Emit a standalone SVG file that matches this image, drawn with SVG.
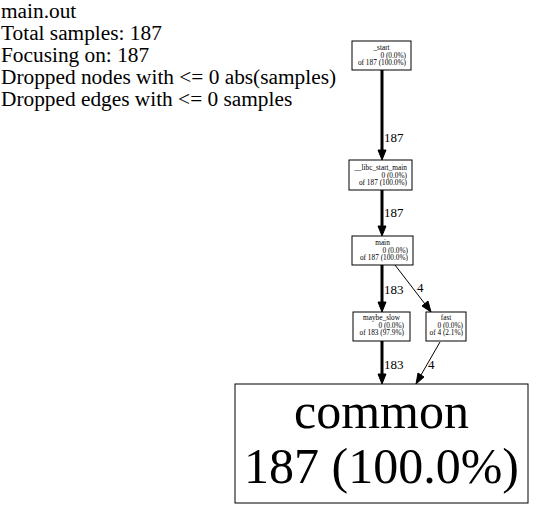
<svg xmlns="http://www.w3.org/2000/svg" width="540" height="517" viewBox="0 0 540 517">
<style>
text{font-family:"Liberation Serif","Times New Roman",serif;fill:#000}
.hdr{font-size:21.33px}
.n{font-size:7.3px}
.lbl{font-size:13px}
rect{fill:#fff;stroke:#000;stroke-width:1}
.e{stroke:#000;fill:none}
.ah{fill:#000;stroke:#000}
</style>
<rect x="0" y="0" width="540" height="517" style="stroke:none;fill:#fff"/>
<g id="legend">
<text class="hdr" x="1" y="18">main.out</text>
<text class="hdr" x="1" y="40">Total samples: 187</text>
<text class="hdr" x="1" y="62">Focusing on: 187</text>
<text class="hdr" x="1" y="84">Dropped nodes with &lt;= 0 abs(samples)</text>
<text class="hdr" x="1" y="106">Dropped edges with &lt;= 0 samples</text>
</g>
<g id="connectors">
<line class="e" x1="382" y1="70" x2="382" y2="150" stroke-width="3"/>
<polygon class="ah" points="378,150 386,150 382,160"/>
<text class="lbl" x="384" y="142">187</text>
<line class="e" x1="382" y1="190" x2="382" y2="226" stroke-width="3"/>
<polygon class="ah" points="378,226 386,226 382,236"/>
<text class="lbl" x="384" y="217">187</text>
<line class="e" x1="382" y1="265" x2="382" y2="302" stroke-width="3"/>
<polygon class="ah" points="378,302 386,302 382,312"/>
<text class="lbl" x="384" y="294">183</text>
<line class="e" x1="395" y1="265" x2="425" y2="304" stroke-width="1"/>
<polygon class="ah" points="422,306 428,301 431,312"/>
<text class="lbl" x="417" y="292">4</text>
<line class="e" x1="382" y1="341" x2="382" y2="374" stroke-width="3"/>
<polygon class="ah" points="378,374 386,374 382,384"/>
<text class="lbl" x="384" y="369">183</text>
<line class="e" x1="440" y1="342" x2="421" y2="375" stroke-width="1"/>
<polygon class="ah" points="418,373 424,377 416,384"/>
<text class="lbl" x="428" y="369">4</text>
</g>
<g id="node_start">
<rect x="352" y="41" width="59" height="29"/>
<text class="n" x="381.5" y="50" text-anchor="middle">_start</text>
<text class="n" x="406" y="57.5" text-anchor="end">0 (0.0%)</text>
<text class="n" x="406" y="65" text-anchor="end">of 187 (100.0%)</text>
</g>
<g id="node_libc_start_main">
<rect x="349" y="160" width="63" height="30"/>
<text class="n" x="380.5" y="170" text-anchor="middle">__libc_start_main</text>
<text class="n" x="407" y="177.5" text-anchor="end">0 (0.0%)</text>
<text class="n" x="407" y="185" text-anchor="end">of 187 (100.0%)</text>
</g>
<g id="node_main">
<rect x="352" y="236" width="61" height="29"/>
<text class="n" x="382.5" y="245" text-anchor="middle">main</text>
<text class="n" x="408" y="252.5" text-anchor="end">0 (0.0%)</text>
<text class="n" x="408" y="260" text-anchor="end">of 187 (100.0%)</text>
</g>
<g id="node_maybe_slow">
<rect x="353" y="312" width="57" height="29"/>
<text class="n" x="381.5" y="320" text-anchor="middle">maybe_slow</text>
<text class="n" x="404" y="327.5" text-anchor="end">0 (0.0%)</text>
<text class="n" x="404" y="335" text-anchor="end">of 183 (97.9%)</text>
</g>
<g id="node_fast">
<rect x="426" y="312" width="40" height="29"/>
<text class="n" x="446" y="320" text-anchor="middle">fast</text>
<text class="n" x="463" y="327.5" text-anchor="end">0 (0.0%)</text>
<text class="n" x="463" y="335" text-anchor="end">of 4 (2.1%)</text>
</g>
<g id="node_common">
<rect x="235" y="384" width="293" height="119"/>
<text x="381.5" y="428" text-anchor="middle" style="font-size:50px">common</text>
<text x="381.5" y="483" text-anchor="middle" style="font-size:50px">187 (100.0%)</text>
</g>
</svg>
